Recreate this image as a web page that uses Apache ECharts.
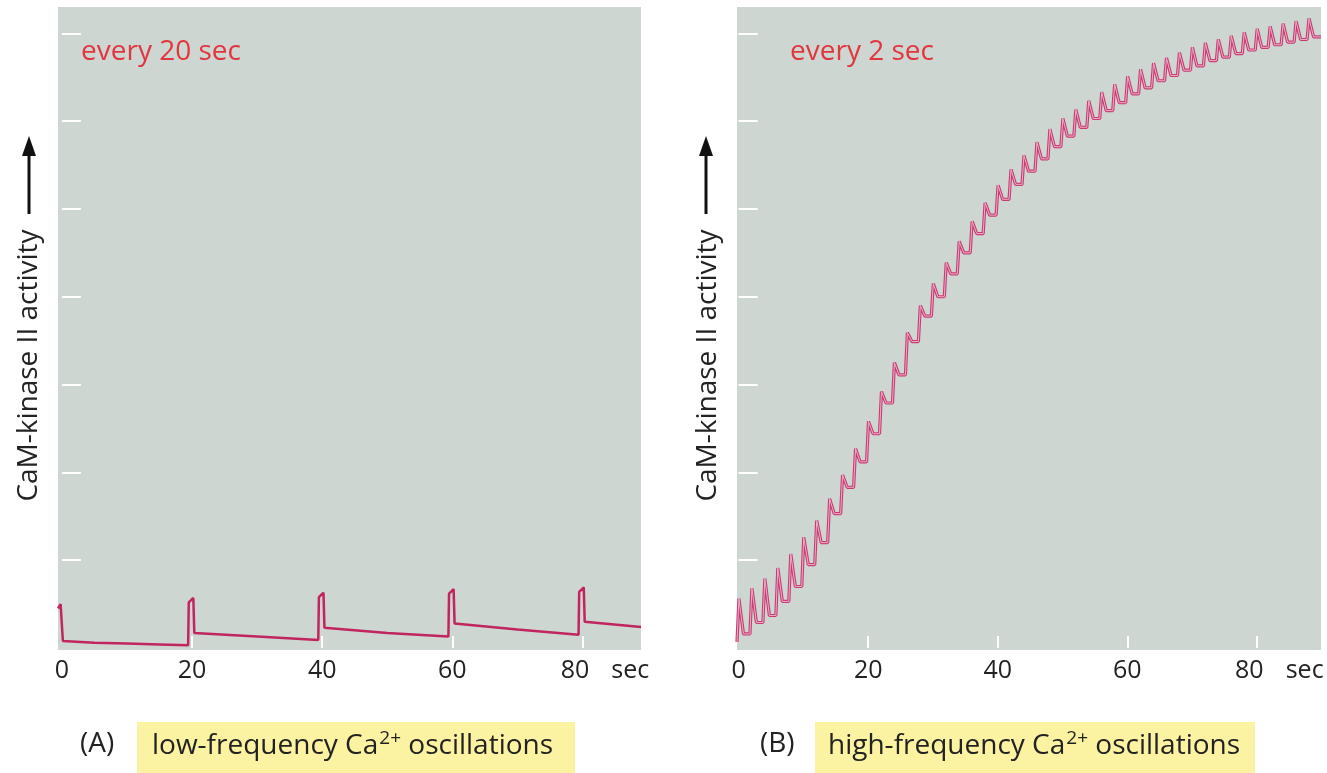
<!DOCTYPE html>
<html>
<head>
<meta charset="utf-8">
<script src="https://cdn.jsdelivr.net/npm/echarts@6/dist/echarts.min.js"></script>
<style>
html,body{margin:0;padding:0;background:#fff;}
#chart{width:1327px;height:773px;}
</style>
</head>
<body>
<div id="chart"></div>
<script>
// ---------- data ----------
// Panel A: low-frequency (every 20 s) — time (s) and activity (arbitrary units)
const aTimes  = [-0.6, -0.2, 0.05, 0.15, 5, 10, 15, 19.4, 19.5, 20.2, 20.35, 30, 39.4, 39.5, 40.2, 40.35, 50, 59.4, 59.5, 60.2, 60.35, 70, 79.4, 79.5, 80.2, 80.35, 89];
const aValues = [0.45, 0.50, 0.49, 0.08, 0.06, 0.05, 0.04, 0.03, 0.52, 0.57, 0.17, 0.13, 0.09, 0.58, 0.63, 0.23, 0.17, 0.13, 0.62, 0.67, 0.28, 0.21, 0.15, 0.64, 0.69, 0.30, 0.24];

// Panel B: high-frequency (every 2 s) — per-spike trough (just before rise) and peak
const bFirstSpike = -0.25;
const bPeriod = 2;
const bTroughs = [0.07,0.16,0.29,0.37,0.53,0.70,0.95,1.20,1.53,1.83,2.12,2.44,2.79,3.11,3.49,3.78,4.00,4.26,4.50,4.72,4.93,5.11,5.28,5.43,5.57,5.71,5.83,5.93,6.03,6.12,6.21,6.31,6.38,6.46,6.52,6.58,6.63,6.69,6.73,6.77,6.81,6.84,6.87,6.90,6.93];
const bPeaks   = [0.56,0.68,0.79,0.91,1.07,1.26,1.45,1.70,1.97,2.27,2.58,2.92,3.25,3.59,3.90,4.15,4.39,4.63,4.86,5.07,5.27,5.45,5.61,5.76,5.91,6.03,6.13,6.23,6.33,6.42,6.51,6.59,6.66,6.72,6.78,6.84,6.89,6.93,6.97,7.01,7.05,7.08,7.11,7.14,7.17];
const bEnd = 6.96;

const xTickLabels = [0, 20, 40, 60, 80];
const xTicks = [20, 40, 60, 80];
const yTicks = [1, 2, 3, 4, 5, 6, 7];

// ---------- build series data ----------
const seriesA = aTimes.map((t, i) => [t, aValues[i]]);
const seriesB = [];
for (let k = 0; k < bPeaks.length; k++) {
  const t = bFirstSpike + k * bPeriod;
  const nextTrough = k + 1 < bTroughs.length ? bTroughs[k + 1] : bEnd;
  seriesB.push([t, bTroughs[k]]);
  seriesB.push([t + 0.3, bPeaks[k]]);
  seriesB.push([t + 0.6, bPeaks[k]]);
  seriesB.push([t + 1.0, nextTrough]);
}
seriesB.push([89.9, bEnd]);

const FONT = '"Open Sans", "Noto Sans", sans-serif';
const GRAY = '#cdd6d1';
const TXT = '#222';

function xLabelFmt(v) {
  if (v === 80) return '{p|}{n|80}{s|sec}';
  return '{n|' + v + '}';
}
const xLabelRich = {
  n: {fontSize: 25, color: TXT, fontFamily: FONT},
  p: {width: 52},
  s: {fontSize: 25, color: TXT, fontFamily: FONT, width: 52, padding: [0, 0, 0, 15]}
};

function xAxisCfg(grid, min, max) {
  return {
    gridIndex: grid, type: 'value', min: min, max: max,
    axisLine: {show: false},
    splitLine: {show: false},
    axisTick: {show: true, customValues: xTicks, inside: true, length: 12, lineStyle: {color: '#ffffff', width: 2}},
    axisLabel: {show: true, customValues: xTickLabels, formatter: xLabelFmt, rich: xLabelRich, margin: 8}
  };
}
function yAxisCfg(grid) {
  return {
    gridIndex: grid, type: 'value', min: -0.023, max: 7.3,
    axisLine: {show: false},
    splitLine: {show: false},
    axisTick: {show: true, customValues: yTicks, inside: true, length: 19, lineStyle: {color: '#ffffff', width: 2}},
    axisLabel: {show: false},
    name: 'CaM-kinase II activity',
    nameLocation: 'middle',
    nameRotate: 90,
    nameGap: 15,
    nameTextStyle: {fontSize: 28, color: TXT, fontFamily: FONT, padding: [0, 74, 0, 0]}
  };
}

function arrow(x) {
  return {
    type: 'group',
    children: [
      {type: 'line', shape: {x1: x, y1: 214, x2: x, y2: 152}, style: {stroke: '#111', lineWidth: 3}},
      {type: 'polygon', shape: {points: [[x - 7, 156], [x + 7, 156], [x, 136]]}, style: {fill: '#111'}}
    ]
  };
}

function caption(label, x0, boxX, boxW, textX, words) {
  return [
    {type: 'text', left: x0, top: 730, style: {text: label, fontSize: 28, fill: TXT, fontFamily: FONT}},
    {type: 'rect', shape: {x: boxX, y: 722, width: boxW, height: 51}, style: {fill: '#fbf2a2'}, z: -1},
    {type: 'text', left: textX, top: 729, style: {
      text: '{n|' + words + ' Ca}{s|2+}{n| oscillations}',
      rich: {
        n: {fontSize: 28, fill: TXT, fontFamily: FONT, lineHeight: 34},
        s: {fontSize: 19, fill: TXT, fontFamily: FONT, lineHeight: 34, padding: [0, 0, 16, 1]}
      }
    }}
  ];
}

const option = {
  animation: false,
  backgroundColor: '#ffffff',
  title: [
    {text: 'every 20 sec', left: 76, top: 33, textStyle: {color: '#e2363f', fontSize: 28, fontWeight: 'normal', fontFamily: FONT}},
    {text: 'every 2 sec', left: 785, top: 33, textStyle: {color: '#e2363f', fontSize: 28, fontWeight: 'normal', fontFamily: FONT}}
  ],
  grid: [
    {left: 58, top: 7, width: 583, height: 643, show: true, backgroundColor: GRAY, borderWidth: 0},
    {left: 737, top: 7, width: 584, height: 643, show: true, backgroundColor: GRAY, borderWidth: 0}
  ],
  xAxis: [xAxisCfg(0, -0.6, 89), xAxisCfg(1, -0.25, 89.9)],
  yAxis: [yAxisCfg(0), yAxisCfg(1)],
  series: [
    {type: 'line', xAxisIndex: 0, yAxisIndex: 0, data: seriesA, showSymbol: false, lineStyle: {color: '#c2245f', width: 2.5}, silent: true},
    {type: 'line', xAxisIndex: 1, yAxisIndex: 1, data: seriesB, showSymbol: false, lineStyle: {color: '#c93a72', width: 3.2}, silent: true},
    {type: 'line', xAxisIndex: 1, yAxisIndex: 1, data: seriesB, showSymbol: false, lineStyle: {color: '#eab0c8', width: 1}, silent: true}
  ],
  graphic: [
    arrow(29),
    arrow(706)
  ].concat(
    caption('(A)', 80, 137, 438, 152, 'low-frequency'),
    caption('(B)', 760, 815, 440, 828, 'high-frequency')
  )
};

const chart = echarts.init(document.getElementById('chart'), null, {renderer: 'canvas'});
chart.setOption(option);
</script>
</body>
</html>
